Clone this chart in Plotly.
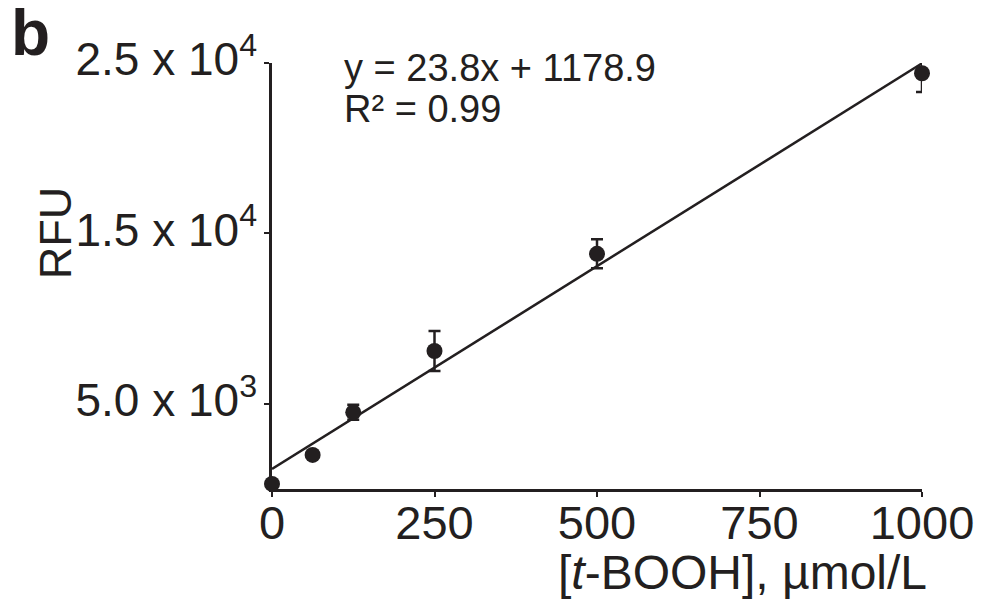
import plotly.graph_objects as go

# Data
conc = [0, 62.5, 125, 250, 500, 1000]          # [t-BOOH], µmol/L
rfu = [300, 2000, 4500, 8100, 13800, 24400]     # RFU
rfu_err = [0, 0, 440, 1170, 850, 1100]          # error bars
slope = 23.8
intercept = 1178.9
fit_x = [0, 1000]
x_ticks = [0, 250, 500, 750, 1000]
y_ticks = [5000, 15000, 25000]
y_ticktext = ["5.0 x 10<sup>3</sup>", "1.5 x 10<sup>4</sup>", "2.5 x 10<sup>4</sup>"]

INK = "#231f20"
FONT = "Liberation Sans, Arial, sans-serif"

fig = go.Figure()

# regression line
fig.add_trace(go.Scatter(
    x=fit_x, y=[slope * v + intercept for v in fit_x],
    mode="lines", line=dict(color=INK, width=2.5),
    showlegend=False, hoverinfo="skip", cliponaxis=True))

# error bars (clipped to the plot area)
fig.add_trace(go.Scatter(
    x=conc, y=rfu, mode="markers",
    marker=dict(size=1, color="rgba(0,0,0,0)"),
    error_y=dict(type="data", array=rfu_err, visible=True,
                 color=INK, thickness=2.5, width=6),
    showlegend=False, cliponaxis=True))

# points
fig.add_trace(go.Scatter(
    x=conc, y=rfu, mode="markers",
    marker=dict(size=16, color=INK),
    showlegend=False, cliponaxis=False))

fig.update_layout(
    width=1002, height=603,
    margin=dict(l=264, r=88, t=55, b=122),
    plot_bgcolor="white", paper_bgcolor="white",
    font=dict(family=FONT, color=INK),
    xaxis=dict(range=[0, 1000], showline=True, linecolor=INK, linewidth=2.5,
               tickmode="array", tickvals=x_ticks, ticks="outside",
               ticklen=5, tickwidth=2, tickcolor=INK,
               ticklabelstandoff=-14,
               tickfont=dict(size=47, family=FONT, color=INK),
               showgrid=False, zeroline=False),
    yaxis=dict(range=[0, 25000], showline=True, linecolor=INK, linewidth=2.5,
               tickmode="array", tickvals=y_ticks, ticktext=y_ticktext,
               ticks="outside", ticklen=5, tickwidth=2, tickcolor=INK,
               ticklabelstandoff=-2, ticklabelshift=-4,
               tickfont=dict(size=46, family=FONT, color=INK),
               showgrid=False, zeroline=False),
    annotations=[
        dict(text="y = 23.8x + 1178.9", xref="paper", yref="paper",
             x=0.108, y=0.988, xanchor="left", yanchor="middle",
             showarrow=False, font=dict(size=38, family=FONT, color=INK)),
        dict(text="R² = 0.99", xref="paper", yref="paper",
             x=0.108, y=0.892, xanchor="left", yanchor="middle",
             showarrow=False, font=dict(size=38, family=FONT, color=INK)),
        dict(text="RFU", xref="paper", yref="paper",
             x=-0.332, y=0.601, xanchor="center", yanchor="middle",
             textangle=-90, showarrow=False,
             font=dict(size=45, family=FONT, color=INK)),
        dict(text="[<i>t</i>-BOOH], µmol/L", xref="paper", yref="paper",
             x=0.724, y=-0.195, xanchor="center", yanchor="middle",
             showarrow=False, font=dict(size=48, family=FONT, color=INK)),
        dict(text="<b>b</b>", xref="paper", yref="paper",
             x=-0.372, y=1.07, xanchor="center", yanchor="middle",
             showarrow=False, font=dict(size=64, family=FONT, color=INK)),
    ],
)

fig.write_html("out.html")
